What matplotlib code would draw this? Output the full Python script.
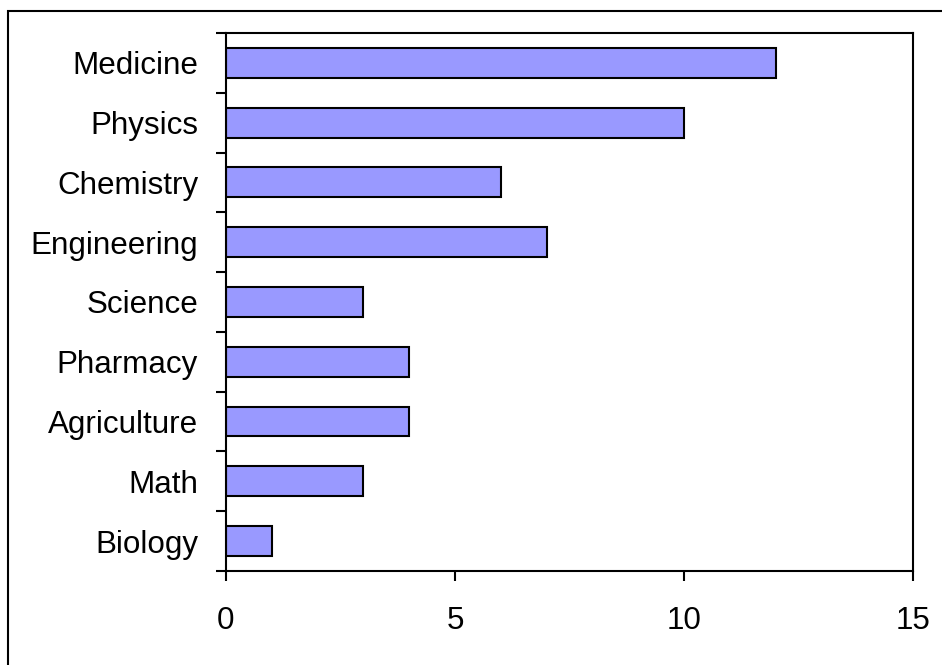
import numpy as np
from matplotlib import pyplot as plt
from matplotlib.patches import Rectangle

fields = ['Medicine', 'Physics', 'Chemistry', 'Engineering', 'Science',
          'Pharmacy', 'Agriculture', 'Math', 'Biology']
counts = [12, 10, 6, 7, 3, 4, 4, 3, 1]
xticks = [0, 5, 10, 15]

plt.rcParams['font.family'] = ['Liberation Sans', 'DejaVu Sans']
plt.rcParams['font.size'] = 22.6

fig = plt.figure(figsize=(9.42, 6.65), dpi=100)
ax = fig.add_axes([0.2399, 0.1414, 0.7293, 0.809])

# first category at the top
pos = np.arange(len(fields))[::-1]
ax.barh(pos, counts, height=0.5, color='#9999FF', edgecolor='black', linewidth=1.5)

ax.set_xlim(0, 15)
ax.set_ylim(-0.5, len(fields) - 0.5)
ax.set_xticks(xticks)
ax.set_yticks(pos)
ax.set_yticklabels(fields)
ax.set_yticks(np.arange(-0.5, len(fields), 1.0), minor=True)

for s in ax.spines.values():
    s.set_linewidth(1.5)
ax.tick_params(axis='y', which='major', length=0, pad=20)
ax.tick_params(axis='y', which='minor', length=7.5, width=1.5, direction='out')
ax.tick_params(axis='x', length=7.5, width=1.5, direction='out', pad=18)

# border round the whole chart area
fig.patches.append(Rectangle((8 / 942, -0.1), 1.2, 1 - 11 / 665 + 0.1,
                             transform=fig.transFigure, fill=False,
                             edgecolor='black', linewidth=1.5))

fig.savefig('out.png', dpi=100)
